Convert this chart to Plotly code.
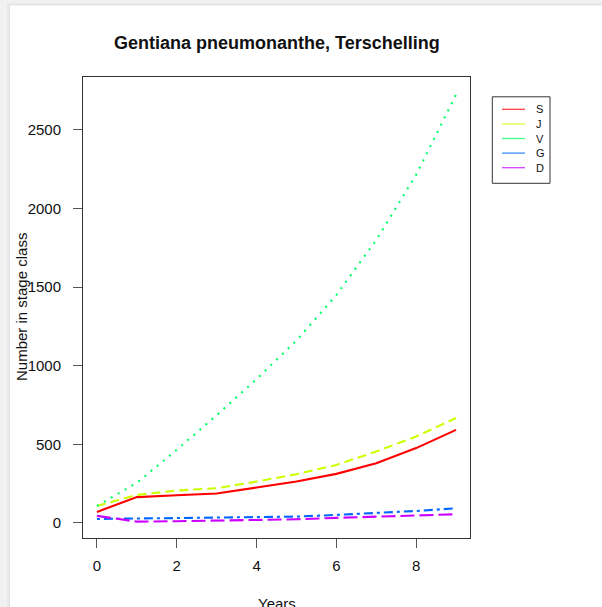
import plotly.graph_objects as go

# ---------------- data ----------------
years = [0, 1, 2, 3, 4, 5, 6, 7, 8, 9]
stage_names = ["S", "J", "V", "G", "D"]
S = [70, 164, 176, 187, 225, 263, 312, 380, 476, 592]
J = [108, 178, 206, 221, 263, 310, 369, 454, 550, 667]
V = [108, 255, 465, 685, 915, 1160, 1450, 1800, 2215, 2725]
G = [25, 28, 30, 32, 36, 40, 51, 62, 76, 93]
D = [45, 8, 11, 14, 19, 23, 32, 40, 49, 55]
series = [S, J, V, G, D]
colors = ["#FF0000", "#CCFF00", "#00FF66", "#0066FF", "#CC00FF"]
dashes = ["solid", "9px,5px", "2px,6px", "3px,4px,9px,4px", "14px,5px"]

x_ticks = [0, 2, 4, 6, 8]
y_ticks = [0, 500, 1000, 1500, 2000, 2500]

title_text = "Gentiana pneumonanthe, Terschelling"
x_title = "Years"
y_title = "Number in stage class"

# ---------------- layout geometry ----------------
W, H = 602, 607
L, R, T, B = 83, 470, 77, 538  # plot box in pixels
PW, PH = R - L, B - T


def px(x):
    return (x - L) / PW


def py(y):
    return (B - y) / PH


FONT = "Liberation Sans, Arial, Helvetica, sans-serif"
BG = "#f1f1f1"

fig = go.Figure()
for name, vals, c, d in zip(stage_names, series, colors, dashes):
    fig.add_trace(go.Scatter(
        x=years, y=vals, mode="lines", name=name,
        line=dict(color=c, width=2.1, dash=d),
        showlegend=False,
    ))

shapes = []
# page background card with soft shadow
shapes.append(dict(type="rect", xref="paper", yref="paper",
                   x0=px(7), x1=px(640), y0=py(3), y1=py(650),
                   fillcolor="#e9e9e9", line=dict(width=0), layer="below"))
shapes.append(dict(type="rect", xref="paper", yref="paper",
                   x0=px(9), x1=px(640), y0=py(4.5), y1=py(650),
                   fillcolor="#e2e2e2", line=dict(width=0), layer="below"))
shapes.append(dict(type="rect", xref="paper", yref="paper",
                   x0=px(10), x1=px(640), y0=py(5.5), y1=py(650),
                   fillcolor="#ffffff", line=dict(width=0), layer="below"))

# manual legend (R style)
leg_x0, leg_x1, leg_y0, leg_y1 = 492.3, 550, 96.8, 183.3
shapes.append(dict(type="rect", xref="paper", yref="paper",
                   x0=px(leg_x0), x1=px(leg_x1), y0=py(leg_y0), y1=py(leg_y1),
                   line=dict(color="#333333", width=1), fillcolor="rgba(0,0,0,0)",
                   layer="above"))
annotations = []
for i, (name, c) in enumerate(zip(stage_names, colors)):
    yy = 109.3 + i * 14.6
    shapes.append(dict(type="line", xref="paper", yref="paper",
                       x0=px(502), x1=px(525), y0=py(yy), y1=py(yy),
                       line=dict(color=c, width=1.3), opacity=0.75))
    annotations.append(dict(text=name, xref="paper", yref="paper",
                            x=px(534), y=py(yy), xanchor="left", yanchor="middle",
                            showarrow=False,
                            font=dict(family=FONT, size=11, color="#111111")))

# titles
annotations.append(dict(text="<b>" + title_text + "</b>", xref="paper", yref="paper",
                        x=px(277), y=py(43), xanchor="center", yanchor="middle",
                        showarrow=False, font=dict(family=FONT, size=18, color="#111111")))
annotations.append(dict(text=x_title, xref="paper", yref="paper",
                        x=px(277), y=py(603), xanchor="center", yanchor="middle",
                        showarrow=False, font=dict(family=FONT, size=15, color="#111111")))
annotations.append(dict(text=y_title, xref="paper", yref="paper",
                        x=px(21), y=py(307), xanchor="center", yanchor="middle",
                        textangle=-90,
                        showarrow=False, font=dict(family=FONT, size=15, color="#111111")))

fig.update_layout(
    width=W, height=H,
    margin=dict(l=L, r=W - R, t=T, b=H - B, pad=0),
    paper_bgcolor=BG,
    plot_bgcolor="#ffffff",
    shapes=shapes,
    annotations=annotations,
    showlegend=False,
    font=dict(family=FONT, size=15, color="#111111"),
)
fig.update_xaxes(
    range=[-0.35, 9.35], tickvals=x_ticks, ticktext=[str(v) for v in x_ticks],
    showgrid=False, zeroline=False,
    showline=True, linecolor="#333333", linewidth=1, mirror=True,
    ticks="outside", ticklen=9, tickcolor="#555555", tickwidth=1,
    ticklabelstandoff=5,
    tickfont=dict(family=FONT, size=15, color="#111111"),
    automargin=False,
)
fig.update_yaxes(
    range=[-96, 2837], tickvals=y_ticks, ticktext=[str(v) for v in y_ticks],
    showgrid=False, zeroline=False,
    showline=True, linecolor="#333333", linewidth=1, mirror=True,
    ticks="outside", ticklen=9, tickcolor="#555555", tickwidth=1,
    ticklabelstandoff=9,
    tickfont=dict(family=FONT, size=15, color="#111111"),
    automargin=False,
)

fig.write_html(
    "out.html",
    config={"displayModeBar": False},
    post_script=(
        "document.documentElement.style.margin='0';"
        "document.body.style.margin='0';"
        "document.body.style.padding='0';"
        "document.body.style.overflow='hidden';"
        "document.body.style.background='" + BG + "';"
    ),
)
